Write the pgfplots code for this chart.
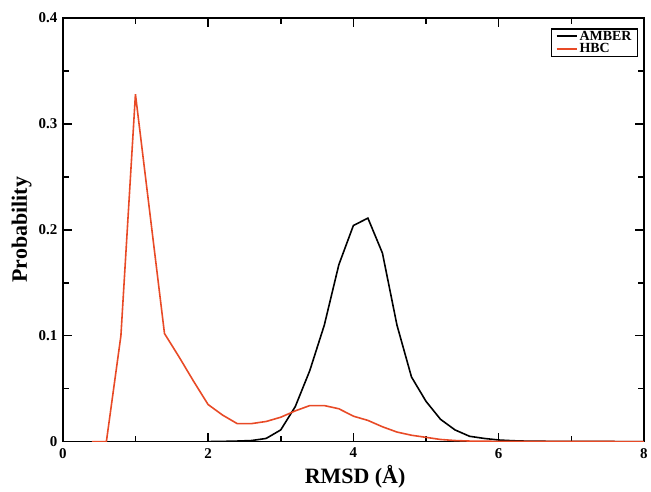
\documentclass[border=0pt]{standalone}
\usepackage{fontspec}
\setmainfont{Liberation Serif}
\usepackage{pgfplots}
\pgfplotsset{compat=1.18}
\definecolor{hbcred}{RGB}{232,74,38}
\begin{document}
\begin{tikzpicture}
\begin{axis}[
  scale only axis,
  width=583pt, height=425pt,
  xmin=0, xmax=8, ymin=0, ymax=0.4,
  xtick={0,2,4,6,8}, ytick={0,0.1,0.2,0.3,0.4},
  minor xtick={1,3,5,7}, minor ytick={0.05,0.15,0.25,0.35},
  tick align=inside,
  major tick length=9pt, minor tick length=6pt,
  every tick/.style={black, line width=1.6pt},
  axis line style={line width=1.8pt},
  /pgf/number format/assume math mode=true,
  yticklabel style={/pgf/number format/fixed, /pgf/number format/precision=1},
  tick label style={font=\bfseries\fontsize{15}{15}\selectfont, text=black},
  xticklabel style={yshift=-3pt},
  yticklabel style={xshift=-2pt},
  scaled y ticks=false,
  xlabel={RMSD (Å)}, ylabel={Probability},
  label style={font=\bfseries\fontsize{22}{22}\selectfont},
  xlabel style={at={(axis description cs:0.503,-0.084)}, anchor=center},
  ylabel style={at={(axis description cs:-0.071,0.5)}, anchor=center, rotate=0},
  legend style={at={(0.99,0.976)}, anchor=north east, draw=black, line width=1.4pt,
    font=\bfseries\fontsize{14}{14}\selectfont, inner xsep=4pt, inner ysep=1pt, row sep=0pt,
    nodes={inner ysep=1pt},
    /tikz/every even column/.append style={column sep=2pt}},
  legend cell align=left,
  legend image code/.code={\draw[#1, line width=2pt] (0pt,0pt) -- (20pt,0pt);},
  clip=true,
]
\addplot[black, line width=1.6pt] coordinates {
(2.0,0) (2.2,0.0002) (2.4,0.0005) (2.6,0.001) (2.8,0.003) (3.0,0.011)
(3.2,0.033) (3.4,0.067) (3.6,0.110) (3.8,0.167) (4.0,0.204) (4.2,0.211)
(4.4,0.178) (4.6,0.110) (4.8,0.061) (5.0,0.038) (5.2,0.021) (5.4,0.011)
(5.6,0.005) (5.8,0.003) (6.0,0.0015) (6.2,0.0008) (6.4,0.0004) (7.0,0.0001) (8.0,0)
};
\addlegendentry{AMBER}
\addplot[hbcred, line width=1.6pt] coordinates {
(0.4,0) (0.6,0) (0.8,0.100) (1.0,0.328) (1.2,0.215) (1.4,0.102) (1.6,0.080)
(1.8,0.057) (2.0,0.035) (2.2,0.025) (2.4,0.017) (2.6,0.017) (2.8,0.019)
(3.0,0.023) (3.2,0.029) (3.4,0.034) (3.6,0.034) (3.8,0.031) (4.0,0.024)
(4.2,0.020) (4.4,0.014) (4.6,0.009) (4.8,0.006) (5.0,0.004) (5.2,0.002)
(5.4,0.001) (5.6,0.0005) (6.0,0.0002) (8.0,0)
};
\addlegendentry{HBC}
\end{axis}
\path ([xshift=-63pt,yshift=-48pt]current axis.south west) rectangle ([xshift=5pt,yshift=18pt]current axis.north east);
\end{tikzpicture}
\end{document}
